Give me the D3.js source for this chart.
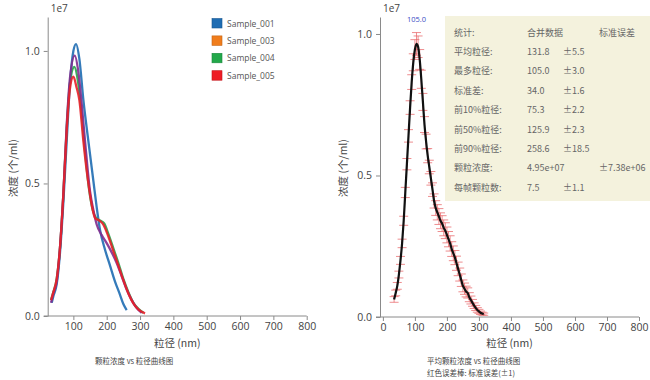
<!DOCTYPE html>
<html><head><meta charset="utf-8">
<script src="https://cdn.jsdelivr.net/npm/d3@7/dist/d3.min.js"></script>
<style>
body{margin:0;background:#fff;}
text{font-family:"Open Sans","Noto Sans CJK SC",sans-serif;}
.cjk{font-family:"Noto Sans CJK SC","Open Sans",sans-serif;}
</style></head><body>
<svg id="c" width="650" height="380"></svg>
<script>
// ---------- DATA (values in units of 1e7 particles/ml, sizes in nm) ----------
const seriesNames = ["Sample_001","Sample_003","Sample_004","Sample_005"];
const s001 = [[35,0.05],[40,0.075],[50,0.12],[60,0.24],[70,0.43],[80,0.66],[90,0.88],[100,1.0],[108,1.026],[118,0.97],[130,0.815],[145,0.66],[160,0.51],[170,0.41],[180,0.325],[195,0.25],[210,0.19],[225,0.13],[240,0.08],[250,0.045],[260,0.022]];
const s003 = [[33,0.05],[40,0.085],[50,0.13],[60,0.26],[70,0.46],[80,0.72],[90,0.9],[104,0.982],[115,0.92],[125,0.8],[135,0.66],[150,0.47],[160,0.4],[170,0.345],[185,0.305],[200,0.275],[215,0.24],[230,0.2],[245,0.15],[260,0.1],[275,0.06],[290,0.03],[305,0.012]];
const s004 = [[33,0.06],[40,0.09],[50,0.14],[60,0.26],[70,0.46],[80,0.71],[90,0.88],[103,0.94],[112,0.9],[122,0.8],[132,0.66],[148,0.47],[158,0.4],[168,0.37],[180,0.36],[192,0.35],[205,0.31],[220,0.255],[235,0.2],[250,0.14],[265,0.09],[280,0.05],[295,0.027],[310,0.012]];
const s005 = [[33,0.06],[40,0.09],[50,0.14],[60,0.26],[70,0.46],[80,0.7],[90,0.86],[100,0.903],[110,0.86],[118,0.815],[130,0.66],[145,0.5],[155,0.42],[165,0.37],[178,0.36],[190,0.345],[205,0.3],[220,0.245],[235,0.19],[250,0.135],[265,0.085],[280,0.048],[295,0.025],[315,0.01]];

const meanSize = [35,40,45,50,55,60,65,70,75,80,85,90,95,100,105,110,115,120,125,130,135,140,145,150,155,160,165,170,175,180,185,190,195,200,205,210,215,220,225,230,235,240,245,250,255,260,265,270,275,280,285,290,295,300,305,310,315];
const meanConc = [0.062,0.085,0.11,0.15,0.2,0.26,0.34,0.44,0.54,0.64,0.74,0.83,0.9,0.945,0.965,0.955,0.91,0.84,0.76,0.68,0.62,0.57,0.53,0.49,0.45,0.41,0.385,0.37,0.355,0.34,0.33,0.315,0.305,0.29,0.275,0.26,0.24,0.225,0.21,0.19,0.17,0.15,0.13,0.11,0.1,0.09,0.085,0.07,0.06,0.05,0.04,0.032,0.025,0.02,0.015,0.012,0.01];
const meanErr  = [0.01,0.01,0.012,0.012,0.014,0.015,0.016,0.018,0.02,0.022,0.024,0.026,0.03,0.035,0.04,0.038,0.035,0.032,0.03,0.028,0.026,0.025,0.024,0.024,0.024,0.025,0.026,0.027,0.028,0.028,0.028,0.028,0.028,0.028,0.027,0.027,0.026,0.026,0.025,0.025,0.024,0.023,0.022,0.021,0.02,0.019,0.018,0.016,0.014,0.012,0.01,0.009,0.008,0.007,0.006,0.005,0.004];
const peakLabel = "105.0";

const xTicksLeft = [100,200,300,400,500,600,700,800];
const xTicksRight = [0,100,200,300,400,500,600,700,800];
const yTicks = [0,0.5,1.0];

const statsRows = [
 ["统计:","合并数据","","标准误差"],
 ["平均粒径:","131.8","±5.5",""],
 ["最多粒径:","105.0","±3.0",""],
 ["标准差:","34.0","±1.6",""],
 ["前10%粒径:","75.3","±2.2",""],
 ["前50%粒径:","125.9","±2.3",""],
 ["前90%粒径:","258.6","±18.5",""],
 ["颗粒浓度:","4.95e+07","","±7.38e+06"],
 ["每帧颗粒数:","7.5","±1.1",""]
];

// ---------- DRAW ----------
const svg = d3.select("#c");
const axisCol = "#8a8a8a", textCol = "#444";
const lineColors = ["#1f6db3","#7f2c8e","#27a34a","#e8202a"];
const legendColors = ["#1f6db3","#f07d1c","#22a84a","#ee1c24"];

function drawAxes(g, x, y, xt, yX) {
  const xa = d3.axisBottom(x).tickValues(xt).tickFormat(d3.format("d")).tickSize(4).tickSizeOuter(0);
  const ya = d3.axisLeft(y).tickValues(yTicks).tickFormat(d3.format(".1f")).tickSize(4).tickSizeOuter(0);
  const gx = g.append("g").attr("transform",`translate(0,${y(0)})`).call(xa);
  const gy = g.append("g").attr("transform",`translate(${x.range()[0]},0)`).call(ya);
  [gx,gy].forEach(a=>{
    a.selectAll("path,line").attr("stroke",axisCol);
    a.selectAll("text").attr("fill",textCol).attr("font-size",10.5);
  });
  gx.select(".domain").attr("d",`M${x.range()[0]-4},0H${x.range()[1]}`);
  gy.selectAll("text").attr("dx",-1);
  g.append("text").attr("x",x.range()[0]+3).attr("y",12).attr("font-size",10).attr("fill",textCol).text("1e7");
  g.append("text").attr("class","cjk").attr("x",(x.range()[0]+x.range()[1])/2).attr("y",347)
    .attr("text-anchor","middle").attr("font-size",10.5).attr("fill",textCol).text("粒径 (nm)");
  g.append("text").attr("class","cjk").attr("transform",`translate(${yX},168) rotate(-90)`)
    .attr("text-anchor","middle").attr("font-size",10.5).attr("fill",textCol).text("浓度 (个/ml)");
}

// Left chart
const xL = d3.scaleLinear().domain([23,800]).range([47.7,306.7]);
const yL = d3.scaleLinear().domain([0,1.128]).range([316,17]);
const gL = svg.append("g");
drawAxes(gL, xL, yL, xTicksLeft, 17);
const lineL = d3.line().x(d=>xL(d[0])).y(d=>yL(d[1])).curve(d3.curveMonotoneX);
const allSeries = [s001,s003,s004,s005];
[0,2,1,3].forEach(i=>{
  gL.append("path").attr("d",lineL(allSeries[i])).attr("fill","none")
    .attr("stroke",lineColors[i]).attr("stroke-width",2.3).attr("stroke-opacity",0.9);
});
const leg = gL.append("g");
seriesNames.forEach((n,i)=>{
  leg.append("rect").attr("x",212).attr("y",18.5+i*17.4).attr("width",10).attr("height",9.5)
    .attr("fill",legendColors[i]).attr("stroke",d3.color(legendColors[i]).darker(0.6)).attr("stroke-width",0.6);
  leg.append("text").attr("x",227).attr("y",26.5+i*17.4).attr("font-size",8.5).attr("fill","#555").text(n);
});
gL.append("text").attr("class","cjk").attr("x",95).attr("y",364).attr("font-size",7.5).attr("fill","#444").text("颗粒浓度 vs 粒径曲线图");

// Right chart
const xR = d3.scaleLinear().domain([-9,800]).range([380,639]);
const yR = d3.scaleLinear().domain([0,1.06]).range([317,17]);
const gR = svg.append("g");
const box = gR.append("g");
box.append("rect").attr("x",445).attr("y",16).attr("width",205).attr("height",185).attr("fill","#f4f2dd");
const colX = [454,527,563,599];
statsRows.forEach((r,ri)=>{
  r.forEach((c,ci)=>{
    if(!c) return;
    box.append("text").attr("class","cjk").attr("x",colX[ci]).attr("y",35.5+ri*19.4)
      .attr("font-size",9).attr("fill","#666").text(c);
  });
});
drawAxes(gR, xR, yR, xTicksRight, 347);
const meanPts = meanSize.map((s,i)=>({s, c:meanConc[i], e:meanErr[i]}));
const eb = gR.append("g").attr("stroke","#e8676a").attr("stroke-width",1).attr("stroke-opacity",0.75);
meanPts.forEach(p=>{
  const cx = xR(p.s);
  eb.append("line").attr("x1",cx).attr("x2",cx).attr("y1",yR(p.c-p.e)).attr("y2",yR(p.c+p.e));
  eb.append("line").attr("x1",cx-4.5).attr("x2",cx+4.5).attr("y1",yR(p.c+p.e)).attr("y2",yR(p.c+p.e));
  eb.append("line").attr("x1",cx-4.5).attr("x2",cx+4.5).attr("y1",yR(p.c-p.e)).attr("y2",yR(p.c-p.e));
});
const lineR = d3.line().x(d=>xR(d.s)).y(d=>yR(d.c)).curve(d3.curveMonotoneX);
gR.append("path").attr("d",lineR(meanPts)).attr("fill","none").attr("stroke","#111").attr("stroke-width",2.2);
gR.append("text").attr("x",xR(+peakLabel)).attr("y",22).attr("text-anchor","middle")
  .attr("font-size",7.5).attr("fill","#3a4cc4").text(peakLabel);
gR.append("text").attr("class","cjk").attr("x",427).attr("y",364).attr("font-size",7.5).attr("fill","#444").text("平均颗粒浓度 vs 粒径曲线图");
gR.append("text").attr("class","cjk").attr("x",427).attr("y",376).attr("font-size",7.5).attr("fill","#444").text("红色误差棒: 标准误差(±1)");
</script>
</body></html>
